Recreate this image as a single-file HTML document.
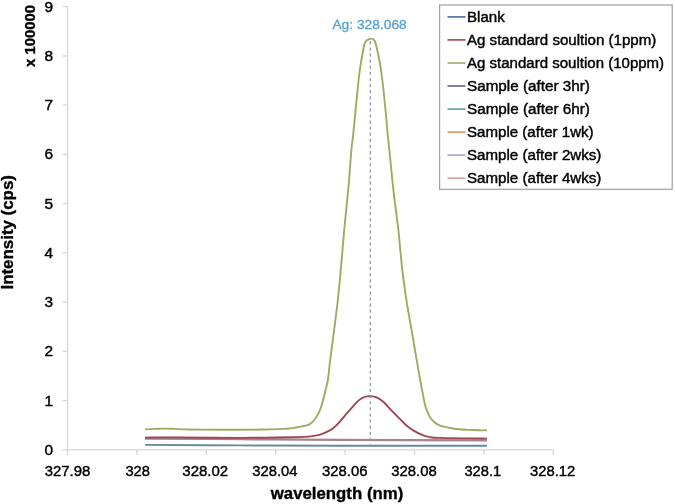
<!DOCTYPE html>
<html><head><meta charset="utf-8"><title>Ag spectrum</title>
<style>
html,body{margin:0;padding:0;background:#fff;overflow:hidden}
svg{display:block}
text{font-family:"Liberation Sans",Arial,Helvetica,sans-serif}
</style></head>
<body>
<svg width="675" height="504" viewBox="0 0 675 504">
<rect width="675" height="504" fill="#fff"/>
<g stroke="#d6d6d6" stroke-width="1.3" fill="none">
<path d="M67.5,6.6V449.8H553.3"/>
<path d="M62.6,449.8H67.5"/>
<path d="M62.6,400.6H67.5"/>
<path d="M62.6,351.3H67.5"/>
<path d="M62.6,302.1H67.5"/>
<path d="M62.6,252.8H67.5"/>
<path d="M62.6,203.6H67.5"/>
<path d="M62.6,154.4H67.5"/>
<path d="M62.6,105.1H67.5"/>
<path d="M62.6,55.9H67.5"/>
<path d="M62.6,6.6H67.5"/>
<path d="M67.5,449.8V455"/>
<path d="M136.9,449.8V455"/>
<path d="M206.3,449.8V455"/>
<path d="M275.7,449.8V455"/>
<path d="M345.1,449.8V455"/>
<path d="M414.5,449.8V455"/>
<path d="M483.9,449.8V455"/>
<path d="M553.3,449.8V455"/>
</g>
<g font-size="14" fill="#000" stroke="#000" stroke-width="0.4" text-anchor="end">
<text x="53" y="454.8" textLength="8.6" lengthAdjust="spacingAndGlyphs">0</text>
<text x="53" y="405.6" textLength="8.6" lengthAdjust="spacingAndGlyphs">1</text>
<text x="53" y="356.3" textLength="8.6" lengthAdjust="spacingAndGlyphs">2</text>
<text x="53" y="307.1" textLength="8.6" lengthAdjust="spacingAndGlyphs">3</text>
<text x="53" y="257.8" textLength="8.6" lengthAdjust="spacingAndGlyphs">4</text>
<text x="53" y="208.6" textLength="8.6" lengthAdjust="spacingAndGlyphs">5</text>
<text x="53" y="159.4" textLength="8.6" lengthAdjust="spacingAndGlyphs">6</text>
<text x="53" y="110.1" textLength="8.6" lengthAdjust="spacingAndGlyphs">7</text>
<text x="53" y="60.9" textLength="8.6" lengthAdjust="spacingAndGlyphs">8</text>
<text x="53" y="11.6" textLength="8.6" lengthAdjust="spacingAndGlyphs">9</text>
</g>
<g font-size="14" fill="#000" stroke="#000" stroke-width="0.4" text-anchor="middle">
<text x="67.55" y="476.3" textLength="45.58" lengthAdjust="spacingAndGlyphs">327.98</text>
<text x="137.70" y="476.3" textLength="24.60" lengthAdjust="spacingAndGlyphs">328</text>
<text x="205.25" y="476.3" textLength="45.79" lengthAdjust="spacingAndGlyphs">328.02</text>
<text x="274.85" y="476.3" textLength="45.17" lengthAdjust="spacingAndGlyphs">328.04</text>
<text x="344.80" y="476.3" textLength="45.48" lengthAdjust="spacingAndGlyphs">328.06</text>
<text x="413.95" y="476.3" textLength="45.48" lengthAdjust="spacingAndGlyphs">328.08</text>
<text x="482.80" y="476.3" textLength="36.70" lengthAdjust="spacingAndGlyphs">328.1</text>
<text x="552.70" y="476.3" textLength="45.28" lengthAdjust="spacingAndGlyphs">328.12</text>
</g>
<text transform="translate(34.6,67) rotate(-90)" font-size="15" font-weight="bold" stroke="#000" stroke-width="0.35" textLength="62.07" lengthAdjust="spacingAndGlyphs">x 100000</text>
<text transform="translate(12.6,289.5) rotate(-90)" font-size="16" font-weight="bold" stroke="#000" stroke-width="0.35" textLength="114.40" lengthAdjust="spacingAndGlyphs">Intensity (cps)</text>
<text x="270.8" y="498.6" font-size="16" font-weight="bold" stroke="#000" stroke-width="0.35" textLength="132.45" lengthAdjust="spacingAndGlyphs">wavelength (nm)</text>
<g fill="none" stroke-linejoin="round" stroke-linecap="butt">
<path d="M145.0,444.9 C160.8,445.0 207.5,445.3 240.0,445.4 C272.5,445.5 298.8,445.6 340.0,445.7 C381.2,445.8 462.5,445.8 487.0,445.8" stroke="#6689a2" stroke-width="1.9"/>
<path d="M145.0,438.6 C160.8,438.7 207.5,439.0 240.0,439.2 C272.5,439.4 298.8,439.7 340.0,439.9 C381.2,440.1 462.5,440.2 487.0,440.3" stroke="#a4848e" stroke-width="2.2"/>
<path d="M145.0,437.6 C150.0,437.6 159.2,437.3 175.0,437.4 C190.8,437.4 220.8,437.9 240.0,437.9 C259.2,437.9 280.0,437.4 290.0,437.3 C300.0,437.2 297.0,437.2 300.0,437.1 C303.0,437.0 305.7,436.8 308.0,436.6 C310.3,436.4 311.8,436.2 313.8,435.9 C315.8,435.6 318.0,435.2 320.0,434.6 C322.0,434.0 323.6,433.4 325.7,432.4 C327.8,431.4 330.8,429.9 332.9,428.4 C335.0,426.9 336.5,425.3 338.5,423.2 C340.5,421.1 342.5,418.4 344.7,415.8 C346.9,413.2 349.5,410.3 351.7,407.9 C353.9,405.5 355.6,403.1 357.6,401.4 C359.6,399.6 361.8,398.2 363.6,397.4 C365.4,396.5 367.0,396.5 368.5,396.3 C370.0,396.1 370.9,396.1 372.6,396.4 C374.3,396.7 376.5,397.2 378.5,398.3 C380.5,399.4 382.2,400.7 384.4,402.8 C386.6,404.9 389.4,408.3 391.9,410.9 C394.4,413.5 396.8,415.8 399.3,418.3 C401.8,420.8 404.2,423.6 406.7,425.7 C409.2,427.8 411.6,429.4 414.1,430.9 C416.6,432.4 419.0,433.6 421.5,434.6 C424.0,435.6 425.8,436.3 428.9,436.9 C432.0,437.4 430.3,437.6 440.0,437.9 C449.7,438.2 479.2,438.5 487.0,438.6" stroke="#a24553" stroke-width="1.9"/>
<path d="M145.0,429.4 C146.7,429.3 151.7,429.0 155.0,428.9 C158.3,428.8 161.7,428.6 165.0,428.6 C168.3,428.6 171.5,428.8 175.0,428.9 C178.5,429.0 181.8,429.3 186.0,429.4 C190.2,429.5 191.0,429.5 200.0,429.6 C209.0,429.7 228.3,429.8 240.0,429.8 C251.7,429.8 262.7,429.5 270.0,429.4 C277.3,429.2 280.7,429.1 284.0,428.9 C287.3,428.7 288.0,428.6 290.0,428.4 C292.0,428.2 294.0,427.8 296.0,427.5 C298.0,427.2 299.8,426.9 302.0,426.4 C304.2,425.9 307.0,425.6 309.0,424.6 C311.0,423.6 312.2,422.4 313.8,420.5 C315.4,418.6 317.2,416.1 318.6,413.3 C320.0,410.5 321.0,407.4 322.1,403.8 C323.2,400.2 324.1,395.9 325.1,391.9 C326.1,387.9 327.1,384.5 327.9,380.0 C328.6,375.5 328.8,371.4 329.6,365.0 C330.4,358.6 331.6,349.3 332.6,341.8 C333.6,334.3 334.5,327.1 335.4,320.0 C336.3,312.9 337.0,307.8 337.9,299.4 C338.8,291.0 339.8,281.3 340.8,269.7 C341.9,258.1 342.9,244.0 344.2,230.0 C345.5,216.0 347.4,199.0 348.6,185.7 C349.8,172.4 350.6,158.3 351.4,150.0 C352.1,141.7 352.4,142.6 353.1,135.6 C353.8,128.6 354.9,117.1 355.8,107.8 C356.7,98.5 357.9,86.3 358.6,80.0 C359.3,73.7 359.4,73.1 359.9,69.7 C360.4,66.3 360.9,62.8 361.4,59.8 C361.9,56.8 362.4,54.3 362.9,51.8 C363.4,49.3 363.7,46.8 364.3,44.9 C364.9,43.0 365.3,41.6 366.5,40.6 C367.7,39.6 370.0,38.6 371.3,38.6 C372.6,38.6 373.5,39.2 374.3,40.4 C375.1,41.6 375.7,43.5 376.3,45.9 C376.9,48.3 377.6,51.7 378.2,54.8 C378.8,57.9 379.5,60.5 380.2,64.7 C380.9,68.9 381.4,72.8 382.3,80.0 C383.2,87.2 384.4,98.5 385.3,107.8 C386.2,117.1 387.1,128.6 387.8,135.6 C388.5,142.6 388.5,141.7 389.4,150.0 C390.2,158.3 391.6,173.8 392.9,185.7 C394.2,197.6 396.4,214.0 397.3,221.4 C398.2,228.8 397.6,221.9 398.4,230.0 C399.2,238.1 401.0,258.1 402.3,269.7 C403.6,281.3 405.1,291.0 406.3,299.4 C407.6,307.8 408.6,312.9 409.8,320.0 C411.0,327.1 412.4,334.5 413.6,341.8 C414.9,349.1 416.0,356.4 417.3,363.7 C418.6,371.0 419.9,378.6 421.2,385.5 C422.5,392.4 424.0,400.7 425.1,405.2 C426.2,409.7 427.0,410.5 427.8,412.5 C428.6,414.5 428.8,415.5 430.0,417.2 C431.2,418.9 433.2,421.1 434.8,422.5 C436.4,423.9 437.2,424.5 439.6,425.4 C442.0,426.3 446.1,427.1 449.3,427.8 C452.5,428.5 455.7,429.0 458.9,429.3 C462.1,429.6 465.3,429.8 468.5,429.9 C471.7,430.0 475.1,430.1 478.2,430.2 C481.3,430.3 485.5,430.4 487.0,430.4" stroke="#9aad62" stroke-width="1.9"/>
</g>
<path d="M370.3,41.3V449" stroke="#9097aa" stroke-width="1.3" stroke-dasharray="3.05,3.05" fill="none"/>
<text x="332.4" y="28.8" font-size="13" fill="#559fd2" stroke="#559fd2" stroke-width="0.3" textLength="74.33" lengthAdjust="spacingAndGlyphs">Ag: 328.068</text>
<rect x="439.6" y="5" width="232.6" height="184.3" fill="#fff" stroke="#a0a0a0" stroke-width="1.2"/>
<g font-size="14" fill="#000">
<path d="M447.5,16.9H465.5" stroke="#5b7eae" stroke-width="1.8"/>
<text x="467" y="21.5" stroke="#000" stroke-width="0.4" textLength="37.81" lengthAdjust="spacingAndGlyphs">Blank</text>
<path d="M447.5,39.9H465.5" stroke="#a85a5c" stroke-width="1.8"/>
<text x="467" y="44.5" stroke="#000" stroke-width="0.4" textLength="189.24" lengthAdjust="spacingAndGlyphs">Ag standard soultion (1ppm)</text>
<path d="M447.5,63.0H465.5" stroke="#a6b67c" stroke-width="1.8"/>
<text x="467" y="67.6" stroke="#000" stroke-width="0.4" textLength="197.12" lengthAdjust="spacingAndGlyphs">Ag standard soultion (10ppm)</text>
<path d="M447.5,86.0H465.5" stroke="#7b6c9a" stroke-width="1.8"/>
<text x="467" y="90.6" stroke="#000" stroke-width="0.4" textLength="122.89" lengthAdjust="spacingAndGlyphs">Sample (after 3hr)</text>
<path d="M447.5,109.1H465.5" stroke="#6fa3c0" stroke-width="1.8"/>
<text x="467" y="113.7" stroke="#000" stroke-width="0.4" textLength="122.89" lengthAdjust="spacingAndGlyphs">Sample (after 6hr)</text>
<path d="M447.5,132.1H465.5" stroke="#e0a070" stroke-width="1.8"/>
<text x="467" y="136.7" stroke="#000" stroke-width="0.4" textLength="126.60" lengthAdjust="spacingAndGlyphs">Sample (after 1wk)</text>
<path d="M447.5,155.1H465.5" stroke="#aab4d4" stroke-width="1.8"/>
<text x="467" y="159.7" stroke="#000" stroke-width="0.4" textLength="134.40" lengthAdjust="spacingAndGlyphs">Sample (after 2wks)</text>
<path d="M447.5,178.2H465.5" stroke="#d4aaa8" stroke-width="1.8"/>
<text x="467" y="182.8" stroke="#000" stroke-width="0.4" textLength="134.40" lengthAdjust="spacingAndGlyphs">Sample (after 4wks)</text>
</g>
</svg>
</body></html>
